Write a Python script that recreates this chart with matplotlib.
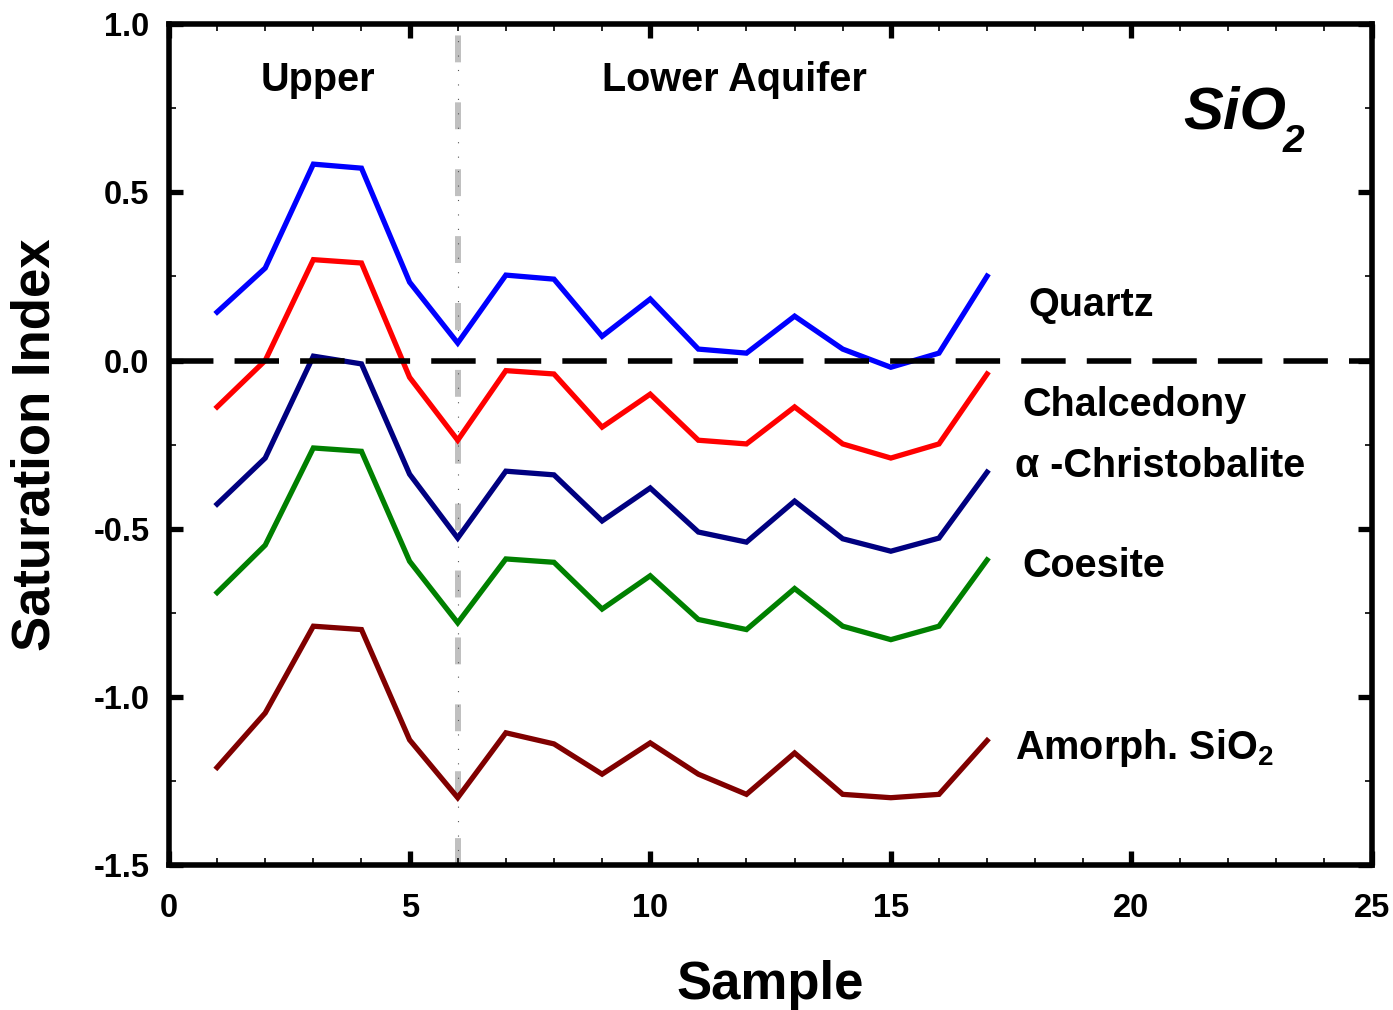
import matplotlib
matplotlib.use("Agg")
import matplotlib.pyplot as plt
from matplotlib.ticker import MultipleLocator

plt.rcParams['font.family'] = ['Liberation Sans', 'DejaVu Sans']
plt.rcParams['font.weight'] = 'bold'
plt.rcParams['mathtext.fontset'] = 'custom'
plt.rcParams['mathtext.rm'] = 'Liberation Sans:bold'
plt.rcParams['mathtext.it'] = 'Liberation Sans:bold:italic'
plt.rcParams['mathtext.bf'] = 'Liberation Sans:bold'

samples = list(range(1, 18))
quartz = [0.144, 0.275, 0.584, 0.572, 0.233, 0.052, 0.254, 0.242, 0.072, 0.183,
          0.034, 0.022, 0.132, 0.034, -0.02, 0.022, 0.251]
chalcedony = [-0.138, 0.0, 0.30, 0.29, -0.05, -0.237, -0.03, -0.04, -0.198, -0.10,
              -0.237, -0.248, -0.138, -0.248, -0.29, -0.248, -0.04]
christobalite = [-0.427, -0.29, 0.013, -0.01, -0.338, -0.528, -0.329, -0.34, -0.477, -0.379,
                 -0.51, -0.54, -0.418, -0.53, -0.567, -0.528, -0.332]
coesite = [-0.69, -0.549, -0.26, -0.27, -0.597, -0.78, -0.59, -0.60, -0.739, -0.64,
           -0.77, -0.80, -0.678, -0.79, -0.83, -0.79, -0.593]
amorph = [-1.21, -1.048, -0.79, -0.80, -1.128, -1.30, -1.107, -1.14, -1.23, -1.137,
          -1.23, -1.29, -1.167, -1.29, -1.30, -1.29, -1.13]

series = [
    (quartz, '#0000ff', 'Quartz', 0.165),
    (chalcedony, '#ff0000', 'Chalcedony', -0.133),
    (christobalite, '#000080', '\u03b1 -Christobalite', -0.314),
    (coesite, '#008000', 'Coesite', -0.611),
    (amorph, '#800000', r'Amorph. SiO$_2$', -1.152),
]
label_x = [17.85, 17.73, 17.58, 17.73, 17.58]

fig = plt.figure(figsize=(13.93, 10.10), dpi=100)
ax = fig.add_axes([0.1213, 0.1436, 0.8637, 0.8324])

ax.set_xlim(0, 25)
ax.set_ylim(-1.5, 1.0)

# boundary between upper and lower aquifer
ax.axvline(6, color='#c0c0c0', lw=4.3, dashes=(4.5, 6.7), zorder=1)
ax.axvline(6, color='#555555', lw=0.8, linestyle=(0, (1, 12)), zorder=1)
# zero line
ax.axhline(0, color='black', lw=4, dashes=(8.0, 3.8), zorder=3)

for (vals, col, name, ly), lx in zip(series, label_x):
    ax.plot(samples, vals, color=col, lw=3.8, zorder=2, solid_joinstyle='miter')
    ax.text(lx, ly, name, fontsize=28.5, fontweight='bold', va='center', ha='left')

ax.text(3.1, 0.833, 'Upper', fontsize=28.5, fontweight='bold', ha='center', va='center')
ax.text(11.74, 0.833, 'Lower Aquifer', fontsize=28.5, fontweight='bold', ha='center', va='center')
ax.text(21.07, 0.691, 'SiO', fontsize=43, fontweight='bold', fontstyle='italic',
        ha='left', va='baseline')
ax.text(23.15, 0.62, '2', fontsize=28, fontweight='bold', fontstyle='italic',
        ha='left', va='baseline')

ax.xaxis.set_major_locator(MultipleLocator(5))
ax.xaxis.set_minor_locator(MultipleLocator(1))
ax.yaxis.set_minor_locator(MultipleLocator(0.25))
ax.set_yticks([-1.5, -1.0, -0.5, 0.0, 0.5, 1.0])
ax.set_yticklabels(['-1.5', '-1.0', '-0.5', '0.0', '0.5', '1.0'])

ax.tick_params(which='both', direction='in', top=True, right=True, labelsize=23.5)
ax.tick_params(axis='x', which='major', pad=20)
ax.tick_params(axis='y', which='major', pad=14)
ax.tick_params(which='major', length=10, width=3.8)
ax.tick_params(which='minor', length=5, width=1.2)
for lab in ax.get_xticklabels() + ax.get_yticklabels():
    lab.set_fontweight('bold')

for sp in ax.spines.values():
    sp.set_linewidth(4)

ax.set_xlabel('Sample', fontsize=38, fontweight='bold')
ax.set_ylabel('Saturation Index', fontsize=38, fontweight='bold')
ax.xaxis.set_label_coords(0.5, -0.143)
ax.xaxis.label.set_va('center')
ax.yaxis.set_label_coords(-0.111, 0.5)
ax.yaxis.label.set_va('center')

fig.savefig('out.png', dpi=100)
